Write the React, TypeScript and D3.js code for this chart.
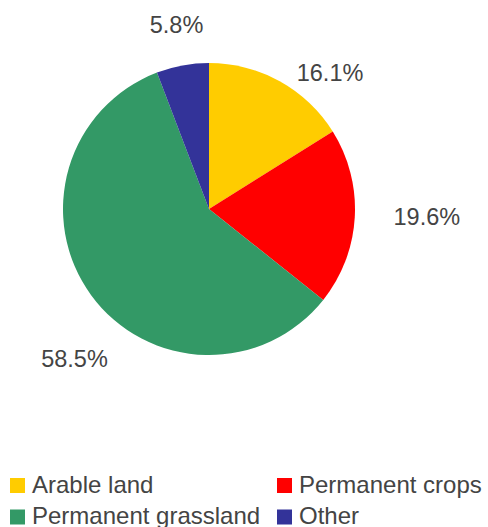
import React from "react";
import * as d3 from "d3";

const categories = ["Arable land", "Permanent crops", "Permanent grassland", "Other"];
const values = [16.1, 19.6, 58.5, 5.8];
const colors = ["#FFCC00", "#FF0000", "#339966", "#333399"];

const W = 488;
const H = 527;

export default function App() {
  const cx = 209;
  const cy = 209;
  const r = 146;
  const pie = d3.pie<number>().sort(null).value((d) => d)(values);
  const arc = d3.arc<d3.PieArcDatum<number>>().innerRadius(0).outerRadius(r);
  // label layout (angle in degrees clockwise from top, distance from centre)
  const labelLayout = [
    { a: 41.7, d: 182 },
    { a: 92, d: 218 },
    { a: 222, d: 201 },
    { a: 350, d: 187 },
  ];
  const fmt = d3.format(".1f");
  const legendCols = [10, 277];
  const legendRows = [485.5, 517];
  const font = "'Liberation Sans', Arial, sans-serif";
  return (
    <svg
      width={W}
      height={H}
      style={{ position: "absolute", left: 0, top: 0, background: "#fff" }}
      fontFamily={font}
    >
      <g transform={`translate(${cx},${cy})`}>
        {pie.map((p, i) => (
          <path key={i} d={arc(p) || ""} fill={colors[i]} />
        ))}
        {pie.map((p, i) => {
          const L = labelLayout[i];
          const t = (L.a * Math.PI) / 180;
          return (
            <text
              key={"l" + i}
              x={L.d * Math.sin(t)}
              y={-L.d * Math.cos(t)}
              dy="0.35em"
              textAnchor="middle"
              fontSize={23.5}
              fill="#444"
            >
              {fmt(values[i])}%
            </text>
          );
        })}
      </g>
      {categories.map((c, i) => {
        const x = legendCols[i % 2];
        const y = legendRows[Math.floor(i / 2)];
        return (
          <g key={"lg" + i}>
            <rect x={x} y={y - 7.5} width={15} height={15} fill={colors[i]} />
            <text x={x + 22} y={y + 7} fontSize={24} fill="#444">
              {c}
            </text>
          </g>
        );
      })}
    </svg>
  );
}
